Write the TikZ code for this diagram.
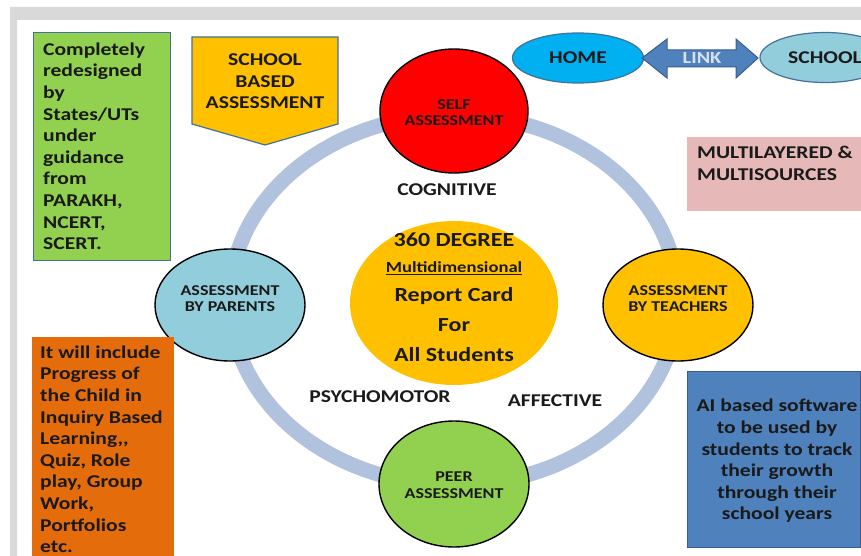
\documentclass[tikz,border=0pt]{standalone}
\usepackage{fontspec}
\setmainfont{Carlito}[FakeStretch=1.2]
\usetikzlibrary{shapes.geometric}
\definecolor{grn}{HTML}{92D050}
\definecolor{yel}{HTML}{FFC000}
\definecolor{selfred}{HTML}{FF0000}
\definecolor{parblue}{HTML}{92CDDC}
\definecolor{homeblue}{HTML}{00B0F0}
\definecolor{pinkbox}{HTML}{E6B9B8}
\definecolor{orng}{HTML}{E46C0A}
\definecolor{aiblue}{HTML}{4F81BD}
\definecolor{edgeblue}{HTML}{41719C}
\definecolor{darkedge}{HTML}{385D8A}
\definecolor{ringblue}{HTML}{B0C2DE}
\definecolor{framegray}{HTML}{D9D9D9}
\definecolor{txt}{HTML}{1A1A1A}
\definecolor{linktxt}{HTML}{D6E0F0}
\begin{document}
\begin{tikzpicture}[x=1pt,y=-1pt,
  body/.style={font=\fontsize{18}{21.6}\selectfont\bfseries, text=txt},
  circ/.style={ellipse, draw=black, line width=1.4pt, inner sep=0pt},
  circtxt/.style={align=center, inner sep=0pt, font=\fontsize{15}{16.6}\selectfont\bfseries, text=txt},
  ctr/.style={anchor=base, inner sep=0pt, font=\fontsize{20}{24}\selectfont\bfseries, text=txt},
  boxtxt/.style={body, inner sep=0pt, anchor=north west, align=left},
]
\useasboundingbox (0,0) rectangle (861,556);
\clip (0,0) rectangle (861,556);
% slide frame
\fill[framegray, even odd rule] (10,7) rectangle (875,570) (17,20) rectangle (875,570);
% ring
\draw[ringblue, line width=15pt] (454,300) ellipse [x radius=224, y radius=185];
% ring ellipses
\node[circ, fill=selfred, minimum width=148pt, minimum height=124pt] (self) at (454,111) {};
\node[circtxt] (selfT) at (454,112.5) {SELF\\ASSESSMENT};
\node[circ, fill=parblue, minimum width=150pt, minimum height=112pt] (parents) at (230,305) {};
\node[circtxt] (parentsT) at (230,298.5) {ASSESSMENT\\BY PARENTS};
\node[circ, fill=yel, minimum width=150pt, minimum height=112pt] (teachers) at (678,305) {};
\node[circtxt] (teachersT) at (678,298.5) {ASSESSMENT\\BY TEACHERS};
\node[circ, fill=grn, minimum width=150pt, minimum height=126pt] (peer) at (454,484) {};
\node[circtxt] (peerT) at (454,485) {PEER\\ASSESSMENT};
% centre
\node[ellipse, fill=yel, minimum width=208pt, minimum height=164pt, inner sep=0pt] (centre) at (454,303) {};
\node[ctr] (c1) at (454,246.7) {360 DEGREE};
\node[ctr, font=\fontsize{15.5}{18}\selectfont\bfseries] (c2) at (454,272.7) {\underline{Multidimensional}};
\node[ctr] (c3) at (454,301.7) {Report Card};
\node[ctr] (c4) at (454,331.7) {For};
\node[ctr] (c5) at (454,361.7) {All Students};
% domain labels
\node[body, anchor=base, inner sep=0pt] (cog) at (447,195) {COGNITIVE};
\node[body, anchor=base, inner sep=0pt] (psy) at (380,402) {PSYCHOMOTOR};
\node[body, anchor=base, inner sep=0pt] (aff) at (555,406.7) {AFFECTIVE};
% green box
\node[draw=edgeblue, fill=grn, line width=1.2pt, minimum width=137pt, minimum height=228pt, anchor=north west, inner sep=0pt] (gbox) at (33,32) {};
\node[boxtxt] (gtext) at (43,42.5) {Completely\\redesigned\\by\\States/UTs\\under\\guidance\\from\\PARAKH,\\NCERT,\\SCERT.};
% school based assessment
\draw[draw=edgeblue, fill=yel, line width=1.2pt] (192,37) -- (338,37) -- (338,124) -- (265,145) -- (192,124) -- cycle;
\node[body, inner sep=0pt, anchor=north, align=center] (sba) at (265,53.4) {SCHOOL\\BASED\\ASSESSMENT};
% home - link - school
\node[ellipse, draw=edgeblue, fill=homeblue, line width=1.2pt, minimum width=131pt, minimum height=50pt, inner sep=0pt, body] (home) at (578,58) {HOME};
\node[ellipse, draw=edgeblue, fill=parblue, line width=1.2pt, minimum width=130pt, minimum height=50pt, inner sep=0pt, body] (school) at (825,57.5) {SCHOOL};
\draw[draw=darkedge, fill=aiblue, line width=1pt] (642,58) -- (667,39) -- (667,50) -- (736,50) -- (736,39) -- (758,58) -- (736,78) -- (736,67) -- (667,67) -- (667,78) -- cycle;
\node[inner sep=0pt, font=\fontsize{17}{20}\selectfont\bfseries, text=linktxt] (link) at (702,58.3) {LINK};
% pink box
\node[fill=pinkbox, minimum width=190pt, minimum height=74pt, anchor=north west, inner sep=0pt] (pbox) at (687,137) {};
\node[boxtxt] (ptext) at (697,146.3) {MULTILAYERED \&\\MULTISOURCES};
% orange box
\node[fill=orng, minimum width=142pt, minimum height=240pt, anchor=north west, inner sep=0pt] (obox) at (32,337) {};
\node[boxtxt] (otext) at (40,345.5) {It will include\\Progress of\\the Child in\\Inquiry Based\\Learning,{},\\Quiz, Role\\play, Group\\Work,\\Portfolios\\etc.};
% AI box
\node[draw=darkedge, fill=aiblue, line width=1.2pt, minimum width=173pt, minimum height=176pt, anchor=north west, inner sep=0pt] (aibox) at (687,371) {};
\node[body, inner sep=0pt, anchor=north, align=center] (aitext) at (777,399) {AI based software\\to be used by\\students to track\\their growth\\through their\\school years};
\end{tikzpicture}
\end{document}
